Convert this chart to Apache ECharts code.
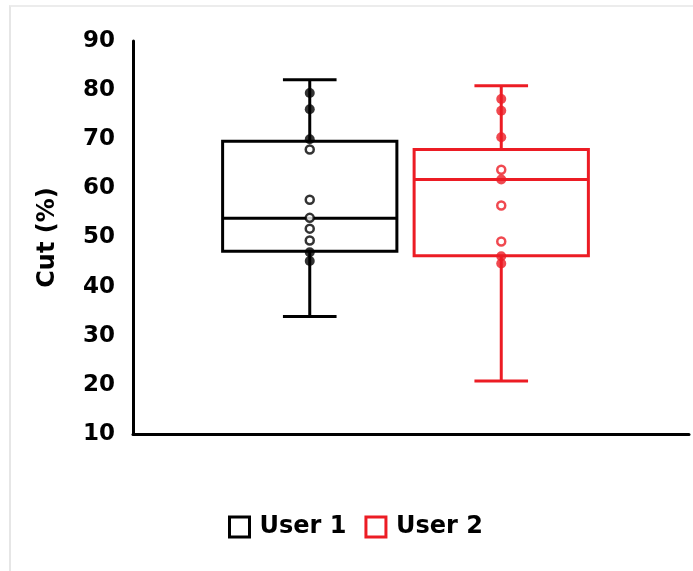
<!DOCTYPE html>
<html>
<head>
<meta charset="utf-8">
<script src="https://cdn.jsdelivr.net/npm/echarts@6/dist/echarts.min.js"></script>
<style>
  html, body { margin: 0; padding: 0; background: #fff; }
  #wrap { position: relative; width: 693px; height: 571px; }
  #frame { position: absolute; left: 9px; top: 5px; right: 0; bottom: 0; border-left: 2px solid #e6e6e6; border-top: 2px solid #ececec; }
  #chart { position: absolute; left: 0; top: 0; width: 693px; height: 571px; }
</style>
</head>
<body>
<div id="wrap">
  <div id="frame"></div>
  <div id="chart"></div>
</div>
<script>
// categories + per-user stats [min, Q1, median, Q3, max]
const categories = ['User 1', 'User 2'];
const user1Box = [33.9, 47.2, 53.9, 69.6, 82.1];
const user2Box = [20.8, 46.3, 61.8, 67.9, 80.9];
// individual points (filled / open markers as in the picture)
const user1Filled = [79.4, 76.1, 70.0, 47.0, 45.2];
const user1Open = [67.9, 57.7, 54.0, 51.8, 49.4];
const user2Filled = [78.2, 75.8, 70.4, 61.8, 46.2, 44.7];
const user2Open = [63.8, 56.5, 49.2];
const yTicks = [10, 20, 30, 40, 50, 60, 70, 80, 90];

const colors = ['#000000', '#ec1c24'];
const font = 'DejaVu Sans';

function renderBox(color) {
  return function (params, api) {
    const x = api.value(0);
    const lo = api.coord([x, api.value(1)]);
    const q1 = api.coord([x, api.value(2)]);
    const md = api.coord([x, api.value(3)]);
    const q3 = api.coord([x, api.value(4)]);
    const hi = api.coord([x, api.value(5)]);
    const band = api.size([1, 0])[0];
    const bw = band * 0.91, cw = band * 0.28;
    const cx = lo[0];
    const style = { stroke: color, lineWidth: 3, fill: null };
    return {
      type: 'group',
      children: [
        { type: 'line', shape: { x1: cx, y1: hi[1], x2: cx, y2: q3[1] }, style },
        { type: 'line', shape: { x1: cx, y1: q1[1], x2: cx, y2: lo[1] }, style },
        { type: 'line', shape: { x1: cx - cw / 2, y1: hi[1], x2: cx + cw / 2, y2: hi[1] }, style },
        { type: 'line', shape: { x1: cx - cw / 2, y1: lo[1], x2: cx + cw / 2, y2: lo[1] }, style },
        { type: 'rect', shape: { x: cx - bw / 2, y: q3[1], width: bw, height: q1[1] - q3[1] }, style },
        { type: 'line', shape: { x1: cx - bw / 2, y1: md[1], x2: cx + bw / 2, y2: md[1] }, style }
      ]
    };
  };
}

function pts(idx, arr) {
  return arr.map(v => [idx, v]);
}

const chart = echarts.init(document.getElementById('chart'));

const option = {
  animation: false,
  backgroundColor: 'transparent',
  legend: {
    left: 223,
    top: 510,
    itemWidth: 20,
    itemHeight: 20,
    itemGap: 18,
    textStyle: { fontFamily: font, fontWeight: 'bold', fontSize: 24, color: '#000', padding: [0, 0, 0, 5] },
    data: [
      { name: 'User 1', icon: 'rect', itemStyle: { color: '#fff', borderColor: colors[0], borderWidth: 3 } },
      { name: 'User 2', icon: 'rect', itemStyle: { color: '#fff', borderColor: colors[1], borderWidth: 3 } }
    ]
  },
  grid: [
    { left: 133, right: 4, top: 41, bottom: 137 },
    { left: 214, right: 96, top: 41, bottom: 137 }
  ],
  xAxis: [
    {
      gridIndex: 0, type: 'value', min: 0, max: 1,
      axisLine: { show: true, onZero: false, lineStyle: { color: '#000', width: 3 } },
      axisTick: { show: false }, axisLabel: { show: false }, splitLine: { show: false }
    },
    { gridIndex: 1, type: 'category', data: categories, show: false }
  ],
  yAxis: [
    {
      gridIndex: 0, type: 'value', min: yTicks[0], max: yTicks[yTicks.length - 1], interval: 10,
      name: 'Cut (%)', nameLocation: 'middle', nameGap: 73,
      nameTextStyle: { fontFamily: font, fontWeight: 'bold', fontSize: 24, color: '#000' },
      axisLine: { show: true, lineStyle: { color: '#000', width: 3 } },
      axisTick: { show: false },
      splitLine: { show: false },
      axisLabel: { margin: 18, fontFamily: font, fontWeight: 'bold', fontSize: 23, color: '#000' }
    },
    { gridIndex: 1, type: 'value', min: yTicks[0], max: yTicks[yTicks.length - 1], show: false }
  ],
  series: [
    {
      name: 'User 1', type: 'custom', xAxisIndex: 1, yAxisIndex: 1,
      itemStyle: { color: colors[0] },
      renderItem: renderBox(colors[0]),
      data: [[0].concat(user1Box)]
    },
    {
      name: 'User 2', type: 'custom', xAxisIndex: 1, yAxisIndex: 1,
      itemStyle: { color: colors[1] },
      renderItem: renderBox(colors[1]),
      data: [[1].concat(user2Box)]
    },
    {
      name: 'User 1', type: 'scatter', xAxisIndex: 1, yAxisIndex: 1, z: 5,
      symbol: 'circle', symbolSize: 10, itemStyle: { color: colors[0] },
      data: pts(0, user1Filled)
    },
    {
      name: 'User 1', type: 'scatter', xAxisIndex: 1, yAxisIndex: 1, z: 5,
      symbol: 'circle', symbolSize: 8, itemStyle: { color: '#fff', borderColor: colors[0], borderWidth: 2.5 },
      data: pts(0, user1Open)
    },
    {
      name: 'User 2', type: 'scatter', xAxisIndex: 1, yAxisIndex: 1, z: 5,
      symbol: 'circle', symbolSize: 10, itemStyle: { color: colors[1] },
      data: pts(1, user2Filled)
    },
    {
      name: 'User 2', type: 'scatter', xAxisIndex: 1, yAxisIndex: 1, z: 5,
      symbol: 'circle', symbolSize: 8, itemStyle: { color: '#fff', borderColor: colors[1], borderWidth: 2.5 },
      data: pts(1, user2Open)
    }
  ]
};

chart.setOption(option);
</script>
</body>
</html>
